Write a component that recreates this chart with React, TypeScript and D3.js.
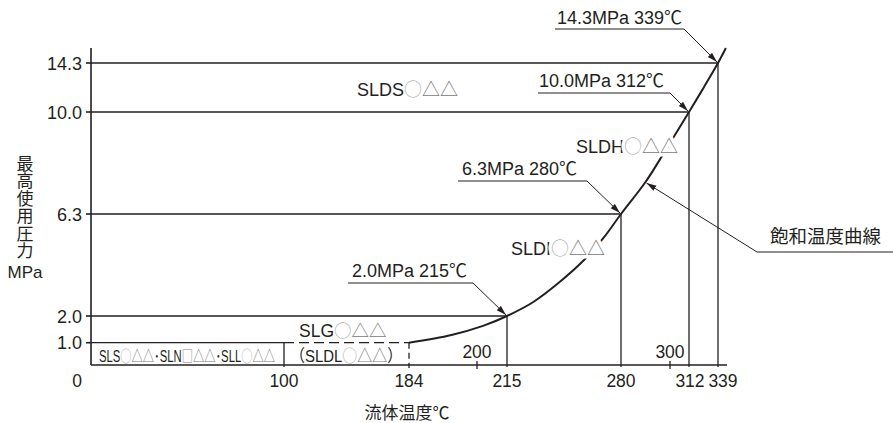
import React from "react";
import * as d3 from "d3";

const W = 893;
const H = 423;

// ---- data ----
const xLabelsBelow = [0, 100, 184, 215, 280, 312, 339];
const xLabelsAbove = [200, 300];
const yTicks = [1.0, 2.0, 6.3, 10.0, 14.3];
const yTickLabels = ["1.0", "2.0", "6.3", "10.0", "14.3"];

// saturation curve (temperature °C, pressure MPa)
const curveTemp = [184, 194, 203, 215, 230, 245, 259.5, 270, 280, 290, 297, 312, 326, 339, 346];
const curvePress = [1.0, 1.29, 1.63, 2.0, 2.59, 3.43, 4.4, 5.29, 6.3, 7.46, 8.44, 10.0, 12.2, 14.3, 15.6];

// limit points
const limitTemp = [215, 280, 312, 339];
const limitPress = [2.0, 6.3, 10.0, 14.3];
const limitLabels = ["2.0MPa 215", "6.3MPa 280", "10.0MPa 312", "14.3MPa 339"];

const lowTemp = [100, 184];
const lowPress = 1.0;

const yTitle = "最高使用圧力";
const yUnit = "MPa";
const xTitle = "流体温度℃";
const curveTitle = "飽和温度曲線";

const INK = "#231f20";
const SYM = "#7a7a7a";
const CIRC = "#b4b4b4";
const LATIN = "'Liberation Sans', Arial, sans-serif";
const CJK = "'Noto Sans CJK JP', sans-serif";

// piecewise (schematic) scales
const x = d3
  .scaleLinear()
  .domain([0, 100, 184, 200, 215, 280, 300, 312, 339, 347])
  .range([91, 284, 409, 477, 507, 621, 670, 689, 718, 727]);
const y = d3
  .scaleLinear()
  .domain([0, 1, 2, 6.3, 10, 14.3, 15.6])
  .range([365, 342.7, 316, 214, 112, 63, 48]);

// callout layout (text start x, baseline, underline start/end)
const calloutLayout = [
  { tx: 352, by: 277, u0: 348, u1: 473, uy: 283 },
  { tx: 462, by: 175, u0: 458, u1: 587, uy: 181 },
  { tx: 539, by: 87, u0: 538, u1: 670, uy: 93 },
  { tx: 557, by: 24, u0: 555, u1: 684, uy: 29 },
];

function Symbols({ first = "○" }: any) {
  return (
    <>
      <tspan fontFamily={CJK} fill={first === "○" ? CIRC : SYM}>{first}</tspan>
      <tspan fontFamily={CJK} fill={SYM}>△△</tspan>
    </>
  );
}

function Region({ x0, by, name, size = 18, halo = false }: any) {
  return (
    <text
      x={x0}
      y={by}
      fontSize={size}
      stroke={halo ? "#fff" : "none"}
      strokeWidth={halo ? 7 : 0}
      paintOrder="stroke"
      strokeLinejoin="round"
    >
      <tspan fontFamily={LATIN} fill={INK}>{name}</tspan>
      <Symbols />
    </text>
  );
}

export default function App() {
  const line = d3
    .line<number>()
    .x((_, i) => x(curveTemp[i]))
    .y((_, i) => y(curvePress[i]))
    .curve(d3.curveCatmullRom.alpha(0.5));
  const curvePath = line(curveTemp) || "";

  const x0 = x(0);
  const y0 = y(0);

  return (
    <svg
      width={W}
      height={H}
      style={{ position: "fixed", left: 0, top: 0, background: "#fff" }}
    >
      <defs>
        <marker
          id="arr"
          markerUnits="userSpaceOnUse"
          markerWidth={12}
          markerHeight={8}
          refX={10}
          refY={3}
          orient="auto"
        >
          <path d="M0,0 L10,3 L0,6 Z" fill={INK} />
        </marker>
      </defs>

      {/* limit lines */}
      {limitTemp.map((t, i) => (
        <g key={"lim" + i} stroke={INK} strokeWidth={1.3} fill="none">
          <line x1={x0} x2={x(t)} y1={y(limitPress[i])} y2={y(limitPress[i])} />
          <line x1={x(t)} x2={x(t)} y1={y(limitPress[i])} y2={y0 + 2} />
        </g>
      ))}

      {/* low pressure region box */}
      <g stroke={INK} strokeWidth={1.3} fill="none">
        <line x1={x0} x2={x(lowTemp[0])} y1={y(lowPress)} y2={y(lowPress)} />
        <line x1={x(lowTemp[0])} x2={x(lowTemp[0])} y1={y(lowPress)} y2={y0 + 2} />
        <line
          x1={x(lowTemp[0])}
          x2={x(lowTemp[1])}
          y1={y(lowPress)}
          y2={y(lowPress)}
          strokeDasharray="10,5"
        />
        <line
          x1={x(lowTemp[1])}
          x2={x(lowTemp[1])}
          y1={y(lowPress)}
          y2={y0 + 3}
          strokeDasharray="6,4"
        />
      </g>

      {/* axes */}
      <g stroke={INK} strokeWidth={1.6} fill="none">
        <line x1={x0} x2={x0} y1={y(15.6)} y2={y0} />
        <line x1={x0} x2={x(347)} y1={y0} y2={y0} />
        {yTicks.map((v, i) => (
          <line key={"yt" + i} x1={x0 - 5} x2={x0} y1={y(v)} y2={y(v)} />
        ))}
        {xLabelsAbove.map((v, i) => (
          <line key={"xt" + i} x1={x(v)} x2={x(v)} y1={y0 - 4} y2={y0 + 4} strokeWidth={1.3} />
        ))}
      </g>

      {/* y tick labels */}
      {yTicks.map((v, i) => (
        <text
          key={"yl" + i}
          x={x0 - 9}
          y={y(v) + 6.5}
          textAnchor="end"
          fontFamily={LATIN}
          fontSize={18}
          fill={INK}
        >
          {yTickLabels[i]}
        </text>
      ))}

      {/* x labels */}
      {xLabelsBelow.map((v, i) => (
        <text
          key={"xl" + i}
          x={v === 0 ? x0 - 14 : x(v) + (v === 312 ? 1 : v === 339 ? 5 : 0)}
          y={387}
          textAnchor="middle"
          fontFamily={LATIN}
          fontSize={17.5}
          fill={INK}
        >
          {v}
        </text>
      ))}
      {xLabelsAbove.map((v, i) => (
        <text
          key={"xa" + i}
          x={x(v)}
          y={358}
          textAnchor="middle"
          fontFamily={LATIN}
          fontSize={17.5}
          fill={INK}
        >
          {v}
        </text>
      ))}

      {/* axis titles */}
      <text x={407} y={419} textAnchor="middle" fontFamily={CJK} fontSize={17} fill={INK}>
        {xTitle}
      </text>
      <text
        x={25}
        y={155}
        style={{ writingMode: "vertical-rl" } as any}
        fontFamily={CJK}
        fontSize={17}
        letterSpacing={0.5}
        fill={INK}
      >
        {yTitle}
      </text>
      <text x={25} y={278} textAnchor="middle" fontFamily={LATIN} fontSize={17} fill={INK}>
        {yUnit}
      </text>

      {/* saturation curve */}
      <path d={curvePath} fill="none" stroke={INK} strokeWidth={2} />

      {/* region labels */}
      <Region x0={357} by={96} name="SLDS" />
      <Region x0={576} by={153} name="SLDH" halo />
      <Region x0={511} by={255} name="SLDI" halo />
      <Region x0={299} by={337} name="SLG" size={17.5} />
      <g transform="translate(290,362) scale(0.88,1)">
        <text x={0} y={0} fontSize={17}>
          <tspan fontFamily={CJK} fill={INK}>（</tspan>
          <tspan fontFamily={LATIN} fill={INK}>SLDL</tspan>
          <Symbols />
          <tspan fontFamily={CJK} fill={INK}>）</tspan>
        </text>
      </g>
      <g transform="translate(99,362) scale(0.705,1)">
        <text x={0} y={0} fontSize={16}>
          <tspan fontFamily={LATIN} fill={INK}>SLS</tspan>
          <Symbols />
          <tspan fontFamily={CJK} fill={INK}>･</tspan>
          <tspan fontFamily={LATIN} fill={INK}>SLN</tspan>
          <Symbols first="□" />
          <tspan fontFamily={CJK} fill={INK}>･</tspan>
          <tspan fontFamily={LATIN} fill={INK}>SLL</tspan>
          <Symbols />
        </text>
      </g>

      {/* callouts */}
      {limitTemp.map((t, i) => {
        const c = calloutLayout[i];
        return (
          <g key={"co" + i}>
            <text x={c.tx} y={c.by} fontSize={18} fill={INK}>
              <tspan fontFamily={LATIN}>{limitLabels[i]}</tspan>
              <tspan fontFamily={CJK}>℃</tspan>
            </text>
            <polyline
              points={`${c.u0},${c.uy} ${c.u1},${c.uy} ${x(t) - 1},${y(limitPress[i]) - 1}`}
              fill="none"
              stroke={INK}
              strokeWidth={1}
              markerEnd="url(#arr)"
            />
          </g>
        );
      })}

      {/* saturation curve callout */}
      <text x={770} y={243} fontFamily={CJK} fontSize={18.5} fill={INK}>
        {curveTitle}
      </text>
      <polyline
        points={`${W},252 757,252 ${x(290) + 1},${y(7.46) + 1}`}
        fill="none"
        stroke={INK}
        strokeWidth={1}
        markerEnd="url(#arr)"
      />
    </svg>
  );
}
